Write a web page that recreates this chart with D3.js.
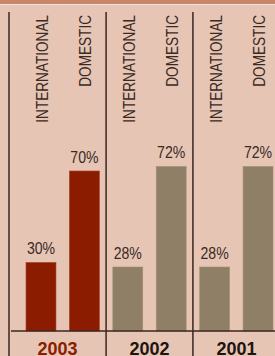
<!DOCTYPE html>
<html>
<head>
<meta charset="utf-8">
<script src="https://cdn.jsdelivr.net/npm/d3@7"></script>
<style>
  html, body { margin: 0; padding: 0; background: #e6c5b5; }
  svg { display: block; }
</style>
</head>
<body>
<div id="chart"></div>
<script>
// data
const years = ['2003', '2002', '2001'];
const types = ['INTERNATIONAL', 'DOMESTIC'];
const international = [30, 28, 28];
const domestic = [70, 72, 72];

const width = 275, height = 356;
const baseY = 331;
const font = '"Liberation Sans", Arial, sans-serif';
const narrow = 0.85; // horizontal squeeze to mimic a condensed face

const rows = [];
years.forEach((y, i) => {
  rows.push({year: y, type: types[0], value: international[i]});
  rows.push({year: y, type: types[1], value: domestic[i]});
});

const svg = d3.select('#chart').append('svg')
  .attr('width', width)
  .attr('height', height);

svg.append('rect')
  .attr('width', width).attr('height', height)
  .attr('fill', '#e6c5b5');

// top band
svg.append('rect')
  .attr('x', 0).attr('y', 0)
  .attr('width', width).attr('height', 4)
  .attr('fill', '#c8866a');
svg.append('rect')
  .attr('x', 0).attr('y', 4)
  .attr('width', width).attr('height', 1)
  .attr('fill', '#f3e2da');

const x = d3.scaleBand()
  .domain(rows.map(d => d.year + '-' + d.type))
  .range([26, 273])
  .paddingInner(0.31)
  .paddingOuter(0);

const y = d3.scaleLinear()
  .domain([0, 70])
  .range([baseY, 171]);

const key = d => d.year + '-' + d.type;
const barColor = d => d.year === '2003' ? '#8b1c00' : '#8f7f66';

// bars
svg.selectAll('rect.bar')
  .data(rows)
  .enter().append('rect')
  .attr('class', 'bar')
  .attr('x', d => x(key(d)))
  .attr('y', d => y(d.value))
  .attr('width', x.bandwidth())
  .attr('height', d => baseY - y(d.value))
  .attr('fill', barColor)
  .attr('stroke', d => d.year === '2003' ? '#a8402a' : '#a39176')
  .attr('stroke-width', 0.6);

// value labels
svg.selectAll('text.val')
  .data(rows)
  .enter().append('text')
  .attr('class', 'val')
  .attr('transform', d => `translate(${x(key(d)) + x.bandwidth() / 2},${y(d.value) - 8}) scale(0.88,1)`)
  .attr('text-anchor', 'middle')
  .attr('font-family', font)
  .attr('font-size', 16)
  .attr('fill', '#3a2a24')
  .text(d => d.value + '%');

// category labels (rotated, reading upward, ending near the top)
svg.selectAll('text.cat')
  .data(rows)
  .enter().append('text')
  .attr('class', 'cat')
  .attr('transform', d => `translate(${x(key(d)) + x.bandwidth() / 2 + 7},15) rotate(-90) scale(${narrow},1)`)
  .attr('text-anchor', 'end')
  .attr('font-family', font)
  .attr('font-size', 16)
  .attr('fill', '#3a2a24')
  .text(d => d.type);

// separators
const seps = [9];
years.slice(1).forEach((yr, i) => {
  const prevEnd = x(years[i] + '-' + types[1]) + x.bandwidth();
  const nextStart = x(yr + '-' + types[0]);
  seps.push((prevEnd + nextStart) / 2);
});

svg.selectAll('line.sep')
  .data(seps)
  .enter().append('line')
  .attr('class', 'sep')
  .attr('x1', d => d).attr('x2', d => d)
  .attr('y1', 12).attr('y2', height)
  .attr('stroke', '#3b2620')
  .attr('stroke-width', 1.5);

// baseline
svg.append('line')
  .attr('x1', 11).attr('x2', width)
  .attr('y1', baseY).attr('y2', baseY)
  .attr('stroke', '#3b2620')
  .attr('stroke-width', 1.5);

// year labels
const groupCenters = years.map((yr, i) => {
  const left = seps[i];
  const right = i + 1 < seps.length ? seps[i + 1] : 280;
  return (left + right) / 2;
});

svg.selectAll('text.year')
  .data(years)
  .enter().append('text')
  .attr('class', 'year')
  .attr('x', (d, i) => groupCenters[i])
  .attr('y', 355)
  .attr('text-anchor', 'middle')
  .attr('font-family', font)
  .attr('font-weight', 'bold')
  .attr('font-size', 18)
  .attr('fill', d => d === '2003' ? '#8b1c00' : '#1e1410')
  .text(d => d);
</script>
</body>
</html>
